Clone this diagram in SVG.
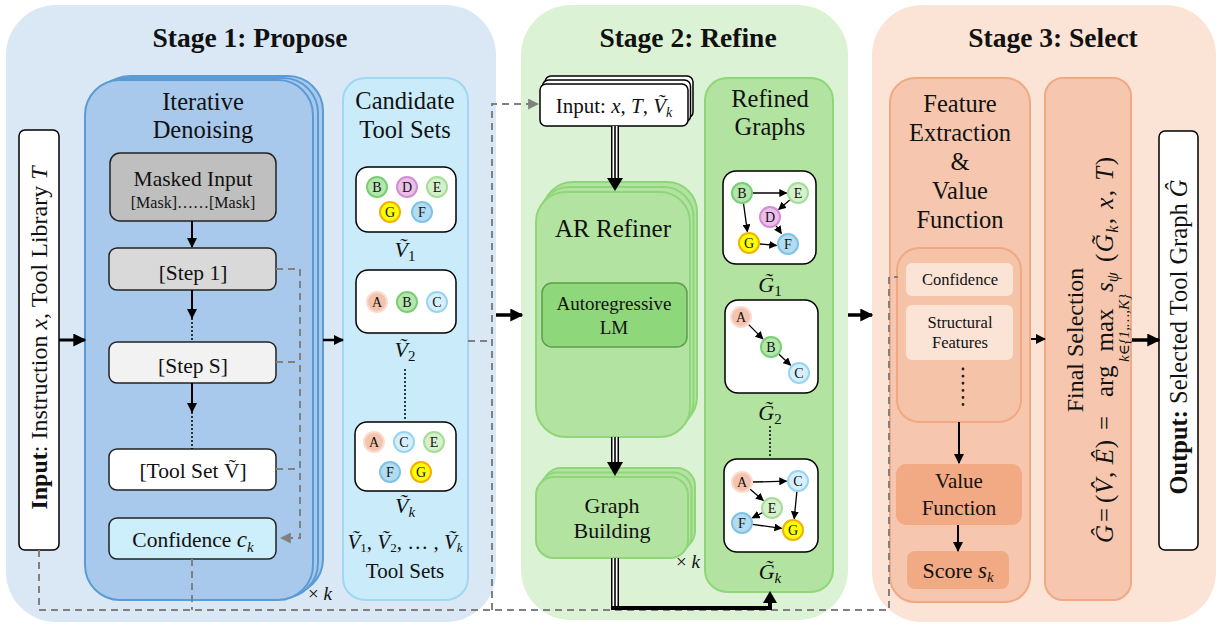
<svg xmlns="http://www.w3.org/2000/svg" width="1224" height="627" viewBox="0 0 1224 627">
<defs>
<style>
text{font-family:"Liberation Serif","Times New Roman","DejaVu Serif",serif;fill:#111}
.m{font-style:italic}
.b{font-weight:bold}
.c{text-anchor:middle}
.dash{fill:none;stroke:#808080;stroke-width:2;stroke-dasharray:7 5}
.id{fill:#a8c9eb;stroke:#5b9bd5;stroke-width:2}
.cand{fill:#c9ebfa;stroke:#9fd8f3;stroke-width:2}
.gr{fill:#b3e3a1;stroke:#8fd67a;stroke-width:2}
.pe{fill:#f6c7ae;stroke:#f1a984;stroke-width:2}
.box{stroke:#222;stroke-width:1.5}
.wb{fill:#fff;stroke:#000;stroke-width:1.5}
.ln{stroke:#000;fill:none}
.edge{stroke:#000;stroke-width:1.3;fill:none;marker-end:url(#ahS)}
.nA{fill:#f5c3ad;stroke:#f9dccf;stroke-width:2}
.nB{fill:#b5e6ad;stroke:#77cf73;stroke-width:2}
.nC{fill:#d6effb;stroke:#96d5f3;stroke-width:2}
.nD{fill:#ebbfe9;stroke:#d18fd0;stroke-width:2}
.nE{fill:#d5f0cc;stroke:#a6dd98;stroke-width:2}
.nF{fill:#b3dcf1;stroke:#7fc2e7;stroke-width:2}
.nG{fill:#ffff00;stroke:#f2b000;stroke-width:2}
.nl{font-size:14px;text-anchor:middle}
</style>
<marker id="ah" viewBox="0 0 10 10" refX="9" refY="5" markerWidth="10" markerHeight="10" markerUnits="userSpaceOnUse" orient="auto"><path d="M0,0 L10,5 L0,10 z" fill="#000"/></marker>
<marker id="ahL" viewBox="0 0 10 10" refX="9" refY="5" markerWidth="13" markerHeight="13" markerUnits="userSpaceOnUse" orient="auto"><path d="M0,0 L10,5 L0,10 z" fill="#000"/></marker>
<marker id="ahS" viewBox="0 0 10 10" refX="9" refY="5" markerWidth="8" markerHeight="8" markerUnits="userSpaceOnUse" orient="auto"><path d="M0,0 L10,5 L0,10 z" fill="#000"/></marker>
<marker id="ahG" viewBox="0 0 10 10" refX="9" refY="5" markerWidth="11" markerHeight="11" markerUnits="userSpaceOnUse" orient="auto"><path d="M0,0 L10,5 L0,10 z" fill="#808080"/></marker>
</defs>
<rect width="1224" height="627" fill="#fff"/>

<!-- stage panels -->
<g id="stage1">
<rect x="6" y="5" width="490" height="617" rx="50" fill="#dae8f5"/>
<text x="250" y="47" class="b c" font-size="27.5">Stage 1: Propose</text>
</g>
<g id="stage2">
<rect x="521" y="5" width="327" height="615" rx="50" fill="#dcf2d4"/>
<text x="688" y="47" class="b c" font-size="27.5">Stage 2: Refine</text>
</g>
<g id="stage3">
<rect x="872" y="5" width="344" height="617" rx="50" fill="#fbe3d6"/>
<text x="1053" y="47" class="b c" font-size="27.5">Stage 3: Select</text>
</g>

<!-- input -->
<g id="input">
<rect x="19" y="130" width="40" height="420" rx="6" class="wb"/>
<g transform="translate(47,338) rotate(-90)"><text x="0" y="0" class="c" font-size="24"><tspan class="b">Input</tspan>: Instruction <tspan class="m">x</tspan>, Tool Library <tspan class="m">T</tspan></text></g>
</g>

<!-- iterative denoising -->
<g id="iterative-denoising">
<rect x="95" y="76" width="228" height="518" rx="35" class="id"/>
<rect x="90" y="78" width="228" height="520" rx="35" class="id"/>
<rect x="85" y="80" width="228" height="520" rx="35" class="id"/>
<text x="203" y="110" class="c" font-size="24.5">Iterative</text>
<text x="203" y="138" class="c" font-size="24.5">Denoising</text>
<text x="320" y="600" class="c" font-size="19">× <tspan class="m">k</tspan></text>
</g>
<g id="masked-input">
<rect x="110" y="153" width="166" height="68" rx="10" fill="#bfbfbf" class="box"/>
<text x="193" y="186" class="c" font-size="21.5">Masked Input</text>
<text x="193" y="208" class="c" font-size="16">[Mask]……[Mask]</text>
</g>
<g id="step1">
<rect x="109" y="248" width="167" height="42" rx="8" fill="#d9d9d9" class="box"/>
<text x="193" y="280" class="c" font-size="21.5">[Step 1]</text>
</g>
<g id="stepS">
<rect x="109" y="342" width="167" height="41" rx="8" fill="#f2f2f2" class="box"/>
<text x="193" y="373" class="c" font-size="21.5">[Step S]</text>
</g>
<g id="toolset">
<rect x="109" y="449" width="167" height="41" rx="8" fill="#fff" class="box"/>
<text x="193" y="478" class="c" font-size="21.5">[Tool Set Ṽ]</text>
</g>
<g id="confidence">
<rect x="109" y="518" width="167" height="41" rx="8" fill="#cdeefb" class="box"/>
<text x="193" y="547" class="c" font-size="21.5">Confidence <tspan class="m" font-size="23">c</tspan><tspan class="m" font-size="15" dy="5">k</tspan></text>
</g>

<!-- candidate tool sets -->
<g id="candidate-tool-sets">
<rect x="343" y="78" width="125" height="522" rx="22" class="cand"/>
<text x="405" y="109" class="c" font-size="24.5">Candidate</text>
<text x="405" y="138" class="c" font-size="24.5">Tool Sets</text>
<rect x="356" y="167" width="100" height="65" rx="12" class="wb"/>
<circle cx="377" cy="187" r="10" class="nB"/><text x="377" y="192" class="nl">B</text>
<circle cx="407" cy="187" r="10" class="nD"/><text x="407" y="192" class="nl">D</text>
<circle cx="437" cy="187" r="10" class="nE"/><text x="437" y="192" class="nl">E</text>
<circle cx="390" cy="212" r="10" class="nG"/><text x="390" y="217" class="nl">G</text>
<circle cx="422" cy="212" r="10" class="nF"/><text x="422" y="217" class="nl">F</text>
<text x="405" y="257" class="c" font-size="22"><tspan class="m">Ṽ</tspan><tspan font-size="15" dy="4">1</tspan></text>
<rect x="356" y="270" width="100" height="63" rx="12" class="wb"/>
<circle cx="377" cy="302" r="10" class="nA"/><text x="377" y="307" class="nl">A</text>
<circle cx="407" cy="302" r="10" class="nB"/><text x="407" y="307" class="nl">B</text>
<circle cx="437" cy="302" r="10" class="nC"/><text x="437" y="307" class="nl">C</text>
<text x="405" y="357" class="c" font-size="22"><tspan class="m">Ṽ</tspan><tspan font-size="15" dy="4">2</tspan></text>
<line x1="405" y1="369" x2="405" y2="421" stroke="#000" stroke-width="1.5" stroke-dasharray="2 2"/>
<rect x="355" y="422" width="101" height="69" rx="12" class="wb"/>
<circle cx="374" cy="442" r="10" class="nA"/><text x="374" y="447" class="nl">A</text>
<circle cx="404" cy="442" r="10" class="nC"/><text x="404" y="447" class="nl">C</text>
<circle cx="434" cy="442" r="10" class="nE"/><text x="434" y="447" class="nl">E</text>
<circle cx="390" cy="472" r="10" class="nF"/><text x="390" y="477" class="nl">F</text>
<circle cx="421" cy="472" r="10" class="nG"/><text x="421" y="477" class="nl">G</text>
<text x="405" y="513" class="c" font-size="22"><tspan class="m">Ṽ</tspan><tspan class="m" font-size="15" dy="4">k</tspan></text>
<text x="405" y="549" class="c" font-size="21"><tspan class="m">Ṽ</tspan><tspan font-size="13" dy="3">1</tspan><tspan dy="-3">, </tspan><tspan class="m">Ṽ</tspan><tspan font-size="13" dy="3">2</tspan><tspan dy="-3">, … , </tspan><tspan class="m">Ṽ</tspan><tspan class="m" font-size="13" dy="3">k</tspan></text>
<text x="405" y="578" class="c" font-size="21">Tool Sets</text>
</g>

<!-- stage 2 -->
<g id="stage2-input">
<rect x="545" y="76" width="148" height="42" rx="6" class="wb"/>
<rect x="542.5" y="80" width="148" height="42" rx="6" class="wb"/>
<rect x="540" y="84" width="148" height="42" rx="6" class="wb"/>
<text x="614" y="113" class="c" font-size="21">Input: <tspan class="m">x</tspan>, <tspan class="m">T</tspan>, <tspan class="m">Ṽ</tspan><tspan class="m" font-size="14" dy="4">k</tspan></text>
</g>
<g id="ar-refiner">
<rect x="543" y="182" width="154" height="245" rx="30" class="gr"/>
<rect x="539.5" y="187" width="154" height="245" rx="30" class="gr"/>
<rect x="536" y="192" width="154" height="245" rx="30" class="gr"/>
<text x="613" y="237" class="c" font-size="25">AR Refiner</text>
<rect x="542" y="283" width="145" height="64" rx="10" fill="#8fd77b" stroke="#5e9e4b" stroke-width="1.5"/>
<text x="614" y="310" class="c" font-size="19">Autoregressive</text>
<text x="614" y="334" class="c" font-size="19">LM</text>
</g>
<g id="graph-building">
<rect x="543" y="468" width="152" height="81" rx="18" class="gr"/>
<rect x="539.5" y="472.5" width="152" height="81" rx="18" class="gr"/>
<rect x="536" y="477" width="152" height="81" rx="18" class="gr"/>
<text x="612" y="513" class="c" font-size="22">Graph</text>
<text x="612" y="538" class="c" font-size="22">Building</text>
<text x="688" y="568" class="c" font-size="19">× <tspan class="m">k</tspan></text>
</g>
<g id="refined-graphs">
<rect x="705" y="78" width="128" height="514" rx="22" class="gr"/>
<text x="770" y="107" class="c" font-size="24.5">Refined</text>
<text x="770" y="135" class="c" font-size="24.5">Graphs</text>
<rect x="723" y="171" width="93" height="93" rx="13" class="wb"/>
<line x1="752.5" y1="193" x2="786.5" y2="193" class="edge"/>
<line x1="790" y1="199.8" x2="778.7" y2="209.5" class="edge"/>
<line x1="743.5" y1="203.4" x2="747.4" y2="231.6" class="edge"/>
<line x1="776" y1="225.6" x2="781.4" y2="233.5" class="edge"/>
<line x1="759.5" y1="244" x2="776.5" y2="245.5" class="edge"/>
<circle cx="742" cy="193" r="10" class="nB"/><text x="742" y="198" class="nl">B</text>
<circle cx="798" cy="193" r="10" class="nE"/><text x="798" y="198" class="nl">E</text>
<circle cx="770" cy="217" r="10" class="nD"/><text x="770" y="222" class="nl">D</text>
<circle cx="749" cy="243" r="10" class="nG"/><text x="749" y="248" class="nl">G</text>
<circle cx="788" cy="244" r="10" class="nF"/><text x="788" y="249" class="nl">F</text>
<text x="770" y="292" class="c" font-size="22"><tspan class="m">G̃</tspan><tspan font-size="15" dy="4">1</tspan></text>
<rect x="725" y="300" width="93" height="93" rx="13" class="wb"/>
<line x1="748.4" y1="324.4" x2="762.9" y2="338.9" class="edge"/>
<line x1="778.7" y1="354.1" x2="790.6" y2="365.2" class="edge"/>
<circle cx="741" cy="317" r="10" class="nA"/><text x="741" y="322" class="nl">A</text>
<circle cx="771" cy="347" r="10" class="nB"/><text x="771" y="352" class="nl">B</text>
<circle cx="799" cy="373" r="10" class="nC"/><text x="799" y="378" class="nl">C</text>
<text x="770" y="420" class="c" font-size="22"><tspan class="m">G̃</tspan><tspan font-size="15" dy="4">2</tspan></text>
<line x1="770" y1="426" x2="770" y2="458" stroke="#000" stroke-width="1.5" stroke-dasharray="2 2"/>
<rect x="724" y="459" width="94" height="93" rx="13" class="wb"/>
<line x1="752.5" y1="482" x2="786.5" y2="481.2" class="edge"/>
<line x1="749.9" y1="488.9" x2="763.3" y2="500.5" class="edge"/>
<line x1="762.6" y1="512.7" x2="752.3" y2="517.8" class="edge"/>
<line x1="796.9" y1="491.4" x2="794.2" y2="518.6" class="edge"/>
<line x1="752.4" y1="524.4" x2="781.6" y2="528.4" class="edge"/>
<circle cx="742" cy="482" r="10" class="nA"/><text x="742" y="487" class="nl">A</text>
<circle cx="798" cy="481" r="10" class="nC"/><text x="798" y="486" class="nl">C</text>
<circle cx="772" cy="508" r="10" class="nE"/><text x="772" y="513" class="nl">E</text>
<circle cx="742" cy="523" r="10" class="nF"/><text x="742" y="528" class="nl">F</text>
<circle cx="793" cy="530" r="10" class="nG"/><text x="793" y="535" class="nl">G</text>
<text x="770" y="579" class="c" font-size="22"><tspan class="m">G̃</tspan><tspan class="m" font-size="15" dy="4">k</tspan></text>
</g>

<!-- stage 3 -->
<g id="feature-extraction">
<rect x="890" y="78" width="140" height="524" rx="25" class="pe"/>
<text x="960" y="112" class="c" font-size="24.5">Feature</text>
<text x="960" y="141" class="c" font-size="24.5">Extraction</text>
<text x="960" y="170" class="c" font-size="24.5">&amp;</text>
<text x="960" y="199" class="c" font-size="24.5">Value</text>
<text x="960" y="228" class="c" font-size="24.5">Function</text>
<rect x="897" y="248" width="124" height="174" rx="22" fill="#f5c3a8" stroke="#f1a984" stroke-width="2"/>
<rect x="906" y="263" width="107" height="33" rx="6" fill="#fbe3d6"/>
<text x="960" y="285" class="c" font-size="16.5">Confidence</text>
<rect x="906" y="305" width="107" height="55" rx="6" fill="#fbe3d6"/>
<text x="960" y="328" class="c" font-size="16.5">Structural</text>
<text x="960" y="348" class="c" font-size="16.5">Features</text>
<line x1="963" y1="369" x2="963" y2="411" stroke="#222" stroke-width="2.8" stroke-linecap="round" stroke-dasharray="0.1 7"/>
</g>
<g id="value-function">
<rect x="896" y="464" width="126" height="61" rx="10" fill="#f1aa84"/>
<text x="959" y="488" class="c" font-size="21">Value</text>
<text x="959" y="515" class="c" font-size="21">Function</text>
</g>
<g id="score">
<rect x="907" y="551" width="102" height="38" rx="8" fill="#f1aa84"/>
<text x="958" y="578" class="c" font-size="22">Score <tspan class="m" font-size="23">s</tspan><tspan class="m" font-size="15" dy="4">k</tspan></text>
</g>
<g id="final-selection">
<rect x="1045" y="78" width="86" height="522" rx="18" class="pe"/>
<g transform="translate(1083,340) rotate(-90)"><text x="0" y="0" class="c" font-size="24">Final Selection</text></g>
<g transform="translate(1113,340) rotate(-90)" font-size="25">
<text x="-203" y="0" class="m">Ĝ</text>
<text x="-182" y="0">=</text>
<text x="-163" y="0" textLength="63" lengthAdjust="spacing">(<tspan class="m">V̂</tspan>, <tspan class="m">Ê</tspan>)</text>
<text x="-90" y="0">=</text>
<text x="-57" y="0">arg</text>
<text x="10" y="0" class="c">max</text>
<text x="12" y="16" class="c m" font-size="15">k∈{1,…,K}</text>
<text x="48" y="0"><tspan class="m">s</tspan><tspan class="m" font-size="16" dy="5">ψ</tspan></text>
<text x="78" y="0" textLength="105" lengthAdjust="spacing">(<tspan class="m">G̃</tspan><tspan class="m" font-size="16" dy="5">k</tspan><tspan dy="-5">, </tspan><tspan class="m">x</tspan>, <tspan class="m">T</tspan>)</text>
</g>
</g>
<g id="output">
<rect x="1159" y="131" width="39" height="419" rx="6" class="wb"/>
<g transform="translate(1187,337) rotate(-90)"><text x="0" y="0" class="c" font-size="24.5"><tspan class="b">Output:</tspan> Selected Tool Graph <tspan class="m">Ĝ</tspan></text></g>
</g>

<!-- connectors -->
<g id="connectors">
<path class="dash" d="M276,269 H300 V538 H281" marker-end="url(#ahG)"/>
<path class="dash" d="M276,362 H300"/>
<path class="dash" d="M276,469 H300"/>
<path class="dash" d="M39,550 V610 H889 V277 H898"/>
<path class="dash" d="M192,559 V610"/>
<path class="dash" d="M468,341 H492"/>
<path class="dash" d="M492,610 V104 H538" marker-end="url(#ahG)"/>

<line x1="192" y1="221" x2="192" y2="247" class="ln" stroke-width="2" marker-end="url(#ah)"/>
<line x1="192" y1="290" x2="192" y2="318" class="ln" stroke-width="2" marker-end="url(#ah)"/>
<line x1="192" y1="318" x2="192" y2="342" class="ln" stroke-width="1.5" stroke-dasharray="2 2"/>
<line x1="192" y1="383" x2="192" y2="412" class="ln" stroke-width="2" marker-end="url(#ah)"/>
<line x1="192" y1="412" x2="192" y2="449" class="ln" stroke-width="1.5" stroke-dasharray="2 2"/>

<line x1="59" y1="340" x2="85" y2="340" class="ln" stroke-width="3" marker-end="url(#ahL)"/>
<line x1="323" y1="340" x2="343" y2="340" class="ln" stroke-width="2.5" marker-end="url(#ah)"/>
<line x1="496" y1="315" x2="522" y2="315" class="ln" stroke-width="3.5" marker-end="url(#ahL)"/>
<line x1="848" y1="315" x2="872" y2="315" class="ln" stroke-width="3.5" marker-end="url(#ahL)"/>
<line x1="1031" y1="339" x2="1045" y2="339" class="ln" stroke-width="2" marker-end="url(#ah)"/>
<line x1="1132" y1="340" x2="1159" y2="340" class="ln" stroke-width="3.5" marker-end="url(#ahL)"/>

<line x1="959" y1="422" x2="959" y2="463" class="ln" stroke-width="2" marker-end="url(#ah)"/>
<line x1="958" y1="525" x2="958" y2="551" class="ln" stroke-width="2" marker-end="url(#ah)"/>

<!-- triple-line arrows -->
<g>
<line x1="615" y1="126" x2="615" y2="180" stroke="#000" stroke-width="8"/>
<line x1="615" y1="126" x2="615" y2="180" stroke="#fff" stroke-width="5"/>
<line x1="615" y1="126" x2="615" y2="180" stroke="#000" stroke-width="1.6"/>
<polygon points="607,178 623,178 615,191" fill="#000"/>
</g>
<g>
<line x1="615" y1="437" x2="615" y2="464" stroke="#000" stroke-width="8"/>
<line x1="615" y1="437" x2="615" y2="464" stroke="#fff" stroke-width="5"/>
<line x1="615" y1="437" x2="615" y2="464" stroke="#000" stroke-width="1.6"/>
<polygon points="607,462 623,462 615,476" fill="#000"/>
</g>
<g>
<line x1="615" y1="558" x2="615" y2="610" stroke="#000" stroke-width="8"/>
<line x1="615" y1="558" x2="615" y2="606" stroke="#fff" stroke-width="5"/>
<line x1="615" y1="558" x2="615" y2="608" stroke="#000" stroke-width="1.6"/>
<path d="M611,608 H770 V602" fill="none" stroke="#000" stroke-width="4"/>
<polygon points="763,603 777,603 770,591" fill="#000"/>
</g>
</g>
</svg>
